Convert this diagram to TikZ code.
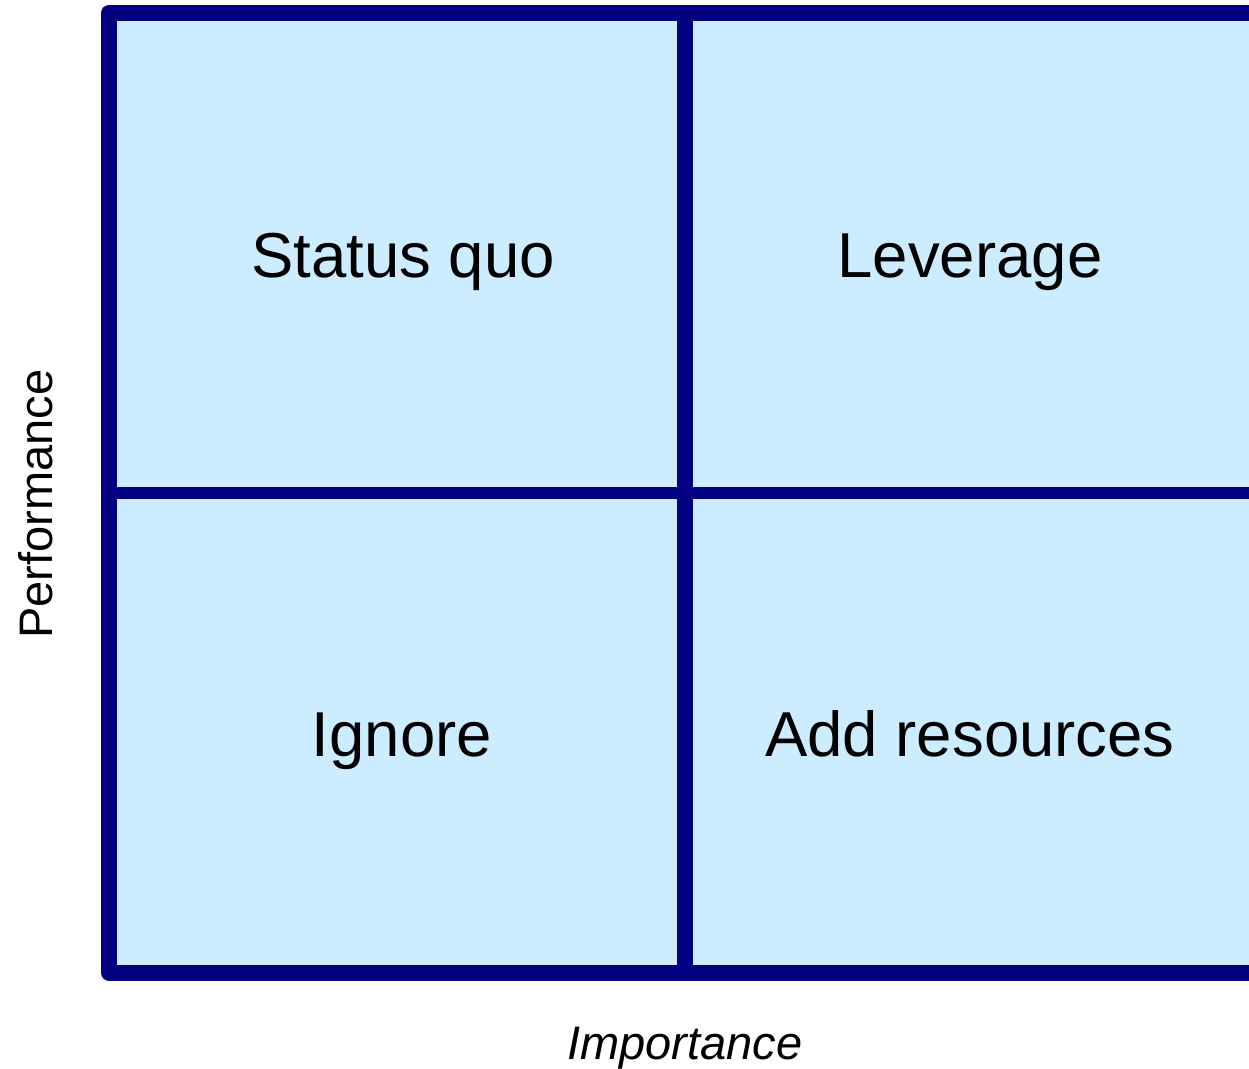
\documentclass[tikz,border=0pt]{standalone}
\usepackage{fontspec}
\setmainfont{Liberation Sans}
\definecolor{navy}{HTML}{000080}
\definecolor{cellblue}{HTML}{CCECFF}
\tikzset{
  gridline/.style={draw=navy, line join=round, line cap=butt},
  cell/.style={font=\fontsize{63.5}{76}\selectfont, inner sep=0pt, anchor=base},
  axislabel/.style={font=\fontsize{47}{56}\selectfont, inner sep=0pt, anchor=base},
}
\begin{document}
\begin{tikzpicture}[x=1pt,y=-1pt]
\useasboundingbox (0,0) rectangle (1249,1068);
\clip (0,0) rectangle (1249,1068);
\fill[white] (0,0) rectangle (1249,1068);
\draw[gridline, fill=cellblue, line width=16pt] (109,13) rectangle (1265,972.5);
\draw[gridline, line width=12.6pt] (109,493) -- (1265,493);
\draw[gridline, line width=16pt] (685,13) -- (685,972.5);
\node[cell] (statusquo) at (403,277) {Status quo};
\node[cell] (leverage) at (970,277) {Leverage};
\node[cell] (ignore) at (402,756) {Ignore};
\node[cell] (addres) at (970,756) {Add resources};
\node[axislabel, font=\fontsize{47}{56}\selectfont\itshape] (importance) at (685,1059) {Importance};
\node[axislabel, rotate=90] (performance) at (52,504) {Performance};
\end{tikzpicture}
\end{document}
